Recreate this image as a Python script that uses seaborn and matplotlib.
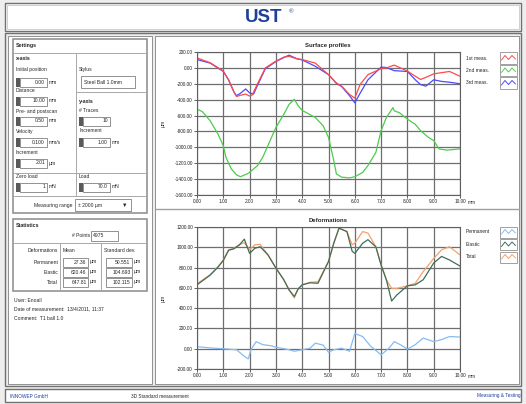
import numpy as np
import pandas as pd
import seaborn as sns
import matplotlib.pyplot as plt
from matplotlib.patches import Rectangle
from matplotlib.lines import Line2D
from matplotlib.ticker import FormatStrFormatter

# surface profiles (um) along x (mm)
x_meas1 = [0, 0.5, 1.0, 1.2, 1.4, 1.5, 1.65, 1.85, 2.0, 2.1, 2.3, 2.6, 3.0, 3.3, 3.5, 3.8, 4.0, 4.5, 5.0, 5.3,
           5.5, 5.8, 6.0, 6.2, 6.5, 7.0, 7.2, 7.5, 8.0, 8.3, 8.5, 8.7, 9.0, 9.3, 9.6, 10.0]
y_meas1 = [125, 65, -40, -150, -300, -360, -345, -330, -355, -340, -200, 0, 85, 135, 145, 115, 105, 60, -85, -190,
           -230, -335, -380, -210, -85, -10, 0, 35, -40, -105, -145, -120, -75, -60, -45, -105]
x_meas3 = [0, 0.5, 1.0, 1.2, 1.4, 1.5, 1.65, 1.85, 2.0, 2.15, 2.3, 2.6, 3.0, 3.3, 3.5, 3.8, 4.0, 4.5, 5.0, 5.3,
           5.5, 5.8, 6.0, 6.2, 6.5, 7.0, 7.2, 7.5, 8.0, 8.3, 8.5, 8.7, 9.0, 9.3, 9.6, 10.0]
y_meas3 = [105, 60, -45, -150, -300, -350, -320, -265, -315, -330, -220, -10, 80, 130, 160, 115, 100, 20, -85, -195,
           -235, -350, -440, -320, -150, 10, 5, -35, -45, -150, -210, -230, -150, -170, -180, -200]
x_meas2 = [0, 0.2, 0.5, 0.8, 1.0, 1.1, 1.3, 1.5, 1.65, 1.9, 2.0, 2.3, 2.5, 3.0, 3.3, 3.5, 3.7, 3.85, 4.0, 4.5,
           4.8, 5.0, 5.2, 5.3, 5.5, 5.8, 6.0, 6.3, 6.5, 6.8, 7.0, 7.2, 7.45, 7.5, 7.7, 8.0, 8.3, 8.5, 8.8, 9.0,
           9.2, 9.5, 10.0]
y_meas2 = [-520, -550, -665, -835, -980, -1125, -1270, -1345, -1370, -1335, -1315, -1230, -1125, -750, -585, -460,
           -395, -480, -535, -625, -730, -875, -1165, -1335, -1375, -1385, -1370, -1315, -1230, -1065, -790, -625,
           -500, -540, -565, -645, -710, -790, -875, -915, -1020, -1035, -1020]

# deformations (um)
x_def = [0, 0.5, 0.8, 1.0, 1.2, 1.4, 1.6, 1.8, 2.0, 2.2, 2.4, 2.7, 3.0, 3.3, 3.5, 3.7, 3.85, 4.0, 4.3, 4.6,
         5.0, 5.2, 5.4, 5.7, 5.9, 6.0, 6.3, 6.5, 6.8, 7.0, 7.2, 7.4, 7.6, 8.0, 8.3, 8.6, 9.0, 9.3, 9.6, 10.0]
y_total = [640, 730, 810, 875, 975, 990, 1025, 1045, 975, 1025, 1030, 925, 795, 680, 580, 500, 595, 630, 655, 660,
           860, 1040, 1185, 1155, 1025, 1040, 1155, 1140, 1005, 825, 680, 595, 595, 620, 645, 760, 890, 975, 1005, 925]
y_elastic = [630, 725, 805, 870, 970, 985, 1020, 1080, 940, 990, 1005, 925, 795, 680, 580, 515, 590, 630, 650, 645,
             860, 1040, 1190, 1155, 960, 940, 1040, 1075, 1005, 825, 680, 470, 530, 620, 630, 680, 845, 910, 875, 815]
x_perm = [0, 0.5, 1.0, 1.5, 1.8, 1.95, 2.05, 2.25, 2.5, 2.8, 3.0, 3.5, 3.7, 4.0, 4.3, 4.5, 4.8, 5.0, 5.2, 5.5,
          5.8, 6.0, 6.3, 6.6, 7.0, 7.3, 7.5, 7.8, 8.0, 8.3, 8.6, 9.0, 9.3, 9.6, 10.0]
y_perm = [20, 8, 0, -10, -75, -100, -10, 70, 40, 30, 15, -10, -25, -10, 5, 55, 35, -35, -10, 5,
          -25, 150, 120, 25, -60, 5, 70, 30, -5, 40, 105, 70, 90, 120, 115]

top_names = ['1st meas.', '2nd meas.', '3rd meas.']
top_colors = ['#ff4a4a', '#4ccc4c', '#4a4aff']
bot_names = ['Permanent', 'Elastic', 'Total']
bot_colors = ['#86bcf2', '#3f6e58', '#f5a06c']

x_ticks = [0, 1, 2, 3, 4, 5, 6, 7, 8, 9, 10]
top_yticks = [200, 0, -200, -400, -600, -800, -1000, -1200, -1400, -1600]
bot_yticks = [1200, 1000, 800, 600, 400, 200, 0, -200]

W, H = 526, 404
sns.set_theme(style="white")
plt.rcParams['font.family'] = ['Liberation Sans', 'DejaVu Sans']

fig = plt.figure(figsize=(W / 100, H / 100), dpi=100)
fig.patch.set_facecolor('#eeeeee')


def box(x0, y0, x1, y1, ec='#909090', fc='none', lw=0.7, z=1):
    fig.patches.append(Rectangle((x0 / W, 1 - y1 / H), (x1 - x0) / W, (y1 - y0) / H,
                                 transform=fig.transFigure, ec=ec, fc=fc, lw=lw, zorder=z))


def line(xs, ys, c='#a8a8a8', lw=0.7, z=2):
    fig.add_artist(Line2D([a / W for a in xs], [1 - b / H for b in ys], color=c, lw=lw,
                          transform=fig.transFigure, zorder=z))


def txt(x, y, s, size=3.6, **kw):
    fig.text(x / W, 1 - y / H, s, fontsize=size, va='center', **kw)


def spin(x, y, val, unit, w=27):
    box(x, y - 4.5, x + 3.5, y + 4.5, fc='#5a5a5a', ec='none', z=2)
    box(x + 4, y - 4.5, x + 4 + w, y + 4.5, fc='white', ec='#808080', lw=0.6, z=2)
    txt(x + 2 + w, y, val, ha='right')
    if unit:
        txt(x + w + 6, y, unit)


# frames
box(5, 3, 521, 31, fc='white', ec='#707070', lw=1.0)
box(7, 5, 519, 29, ec='#c8c8c8', lw=0.6)
box(5, 33, 521, 386, fc='#eeeeee', ec='#707070', lw=1.0)
box(8, 36, 152, 384, fc='white', ec='#909090')
box(155, 36, 519, 384, fc='white', ec='#909090')
box(5, 389, 521, 402, fc='white', ec='#707070', lw=1.0)
line([155, 519], [209, 209], c='#a0a0a0', lw=1.0)

txt(264, 17, 'UST', size=13.5, ha='center', color='#1f3f9a', weight='bold')
txt(291, 12, '®', size=4.5, ha='center', color='#1f3f9a')

txt(10, 396, 'INNOWEP GmbH', size=3.4, color='#1f3f9a')
txt(160, 396, '3D Standard measurement', size=3.4, ha='center')
txt(521, 396, 'Measuring & Testing', size=3.4, ha='right', color='#1f3f9a')

# settings panel
box(13, 39, 147, 213, ec='#8a8a8a', lw=1.1)
line([13, 147], [53, 53])
line([76, 76], [53, 196])
line([76, 147], [92, 92])
line([13, 147], [173, 173])
line([13, 147], [196, 196])
txt(16, 46, 'Settings', size=3.8, weight='bold')
txt(16, 59, 'x-axis', size=3.8, weight='bold')
txt(16, 69, 'Initial position')
txt(79, 69, 'Stylus')
spin(16, 82, '0.00', 'mm')
box(81, 76, 135, 88, fc='white', ec='#808080', lw=0.6)
txt(84, 82, 'Steel Ball 1.0mm')
txt(16, 91, 'Distance')
spin(16, 101, '10.00', 'mm')
txt(79, 101, 'y-axis', size=3.8, weight='bold')
txt(16, 111, 'Pre- and postscan')
txt(79, 111, '# Traces')
spin(16, 121, '0.50', 'mm')
spin(79, 121, '10', '')
txt(16, 131, 'Velocity')
txt(79, 131, 'Increment')
spin(16, 142, '0.100', 'mm/s')
spin(79, 142, '1.00', 'mm')
txt(16, 152, 'Increment')
spin(16, 163, '2.01', 'µm')
txt(16, 177, 'Zero load')
txt(79, 177, 'Load')
spin(16, 187, '1', 'mN')
spin(79, 187, '70.0', 'mN')
txt(73, 205, 'Measuring range', ha='right')
box(75, 199, 131, 211, fc='white', ec='#808080', lw=0.6)
txt(78, 205, '± 2000 µm')
txt(125, 205, '▼', size=4, ha='center')

# statistics panel
box(13, 219, 147, 291, ec='#8a8a8a', lw=1.1)
line([13, 147], [243, 243])
line([60, 60], [243, 291])
line([101, 101], [243, 291])
txt(16, 225, 'Statistics', size=3.8, weight='bold')
txt(90, 236, '# Points', ha='right')
box(91, 231, 118, 241, fc='white', ec='#808080', lw=0.6)
txt(93, 236, '4975')
txt(58, 251, 'Deformations', ha='right')
txt(63, 251, 'Mean')
txt(104, 251, 'Standard dev.')
stat_rows = [('Permanent', '27.36', '50.551'), ('Elastic', '620.46', '104.693'), ('Total', '647.81', '102.115')]
for (name, mean, sd), yy in zip(stat_rows, [262, 272, 282]):
    txt(58, yy, name, ha='right')
    box(63, yy - 4.5, 88, yy + 4.5, fc='white', ec='#808080', lw=0.6)
    txt(86.5, yy, mean, ha='right')
    txt(90, yy, 'µm')
    box(106, yy - 4.5, 132, yy + 4.5, fc='white', ec='#808080', lw=0.6)
    txt(130.5, yy, sd, ha='right')
    txt(134, yy, 'µm')
txt(14, 300, 'User: Enoall')
txt(14, 309, 'Date of measurement:  13/4/2011, 11:37')
txt(14, 318, 'Comment:  T1 ball 1.0')

# charts
top_df = pd.concat([
    pd.DataFrame({'x': x_meas1, 'y': y_meas1, 'series': top_names[0]}),
    pd.DataFrame({'x': x_meas2, 'y': y_meas2, 'series': top_names[1]}),
    pd.DataFrame({'x': x_meas3, 'y': y_meas3, 'series': top_names[2]}),
], ignore_index=True)
bot_df = pd.concat([
    pd.DataFrame({'x': x_perm, 'y': y_perm, 'series': bot_names[0]}),
    pd.DataFrame({'x': x_def, 'y': y_elastic, 'series': bot_names[1]}),
    pd.DataFrame({'x': x_def, 'y': y_total, 'series': bot_names[2]}),
], ignore_index=True)

ax1 = fig.add_axes([197 / W, 1 - 195 / H, 263 / W, 143 / H])
ax2 = fig.add_axes([197 / W, 1 - 369 / H, 263 / W, 142 / H])
ax1.set_zorder(10)
ax2.set_zorder(10)
charts = [(ax1, top_df, top_names, top_colors, top_yticks, 'Surface profiles', 46, [58, 70.5, 83]),
          (ax2, bot_df, bot_names, bot_colors, bot_yticks, 'Deformations', 220, [232, 244.5, 257])]
for ax, df, names, colors, yt, title, ty, ly in charts:
    pal = dict(zip(names, colors))
    order = [names[0], names[2], names[1]] if ax is ax2 else [names[1], names[2], names[0]]
    for n in order:
        sns.lineplot(data=df[df.series == n], x='x', y='y', color=pal[n], sort=False,
                     estimator=None, lw=0.9, ax=ax, legend=False)
    ax.set_xlim(0, 10)
    ax.set_ylim(min(yt), max(yt))
    ax.set_xticks(x_ticks)
    ax.set_yticks(yt)
    ax.xaxis.set_major_formatter(FormatStrFormatter('%.2f'))
    ax.yaxis.set_major_formatter(FormatStrFormatter('%.2f'))
    ax.grid(True, color='#6e6e6e', lw=0.9)
    ax.set_axisbelow(True)
    ax.set_xlabel('')
    ax.set_ylabel('')
    ax.tick_params(bottom=True, left=True, length=2, width=0.5, pad=1, labelsize=3.4, colors='#202020')
    for s in ax.spines.values():
        s.set_color('#606060')
        s.set_linewidth(0.8)
    ax.set_facecolor('white')
    pos = ax.get_position()
    bottom_px = (1 - pos.y0) * H
    txt(328, ty, title, size=4.3, ha='center', weight='bold')
    txt(163, (1 - (pos.y0 + pos.height / 2)) * H, 'µm', size=3.6, ha='center', rotation=90)
    txt(468, bottom_px + 8, 'mm', size=3.4)
    for n, c, yy in zip(names, colors, ly):
        txt(466, yy, n, size=3.5)
        box(500, yy - 5.5, 517, yy + 5.5, fc='white', ec='#909090', lw=0.6)
        line([501.5, 505, 508.5, 512, 515.5], [yy + 2, yy - 2.5, yy + 1.5, yy - 2.5, yy + 1], c=c, lw=0.7)

fig.savefig('out.png', dpi=100, facecolor=fig.get_facecolor())
